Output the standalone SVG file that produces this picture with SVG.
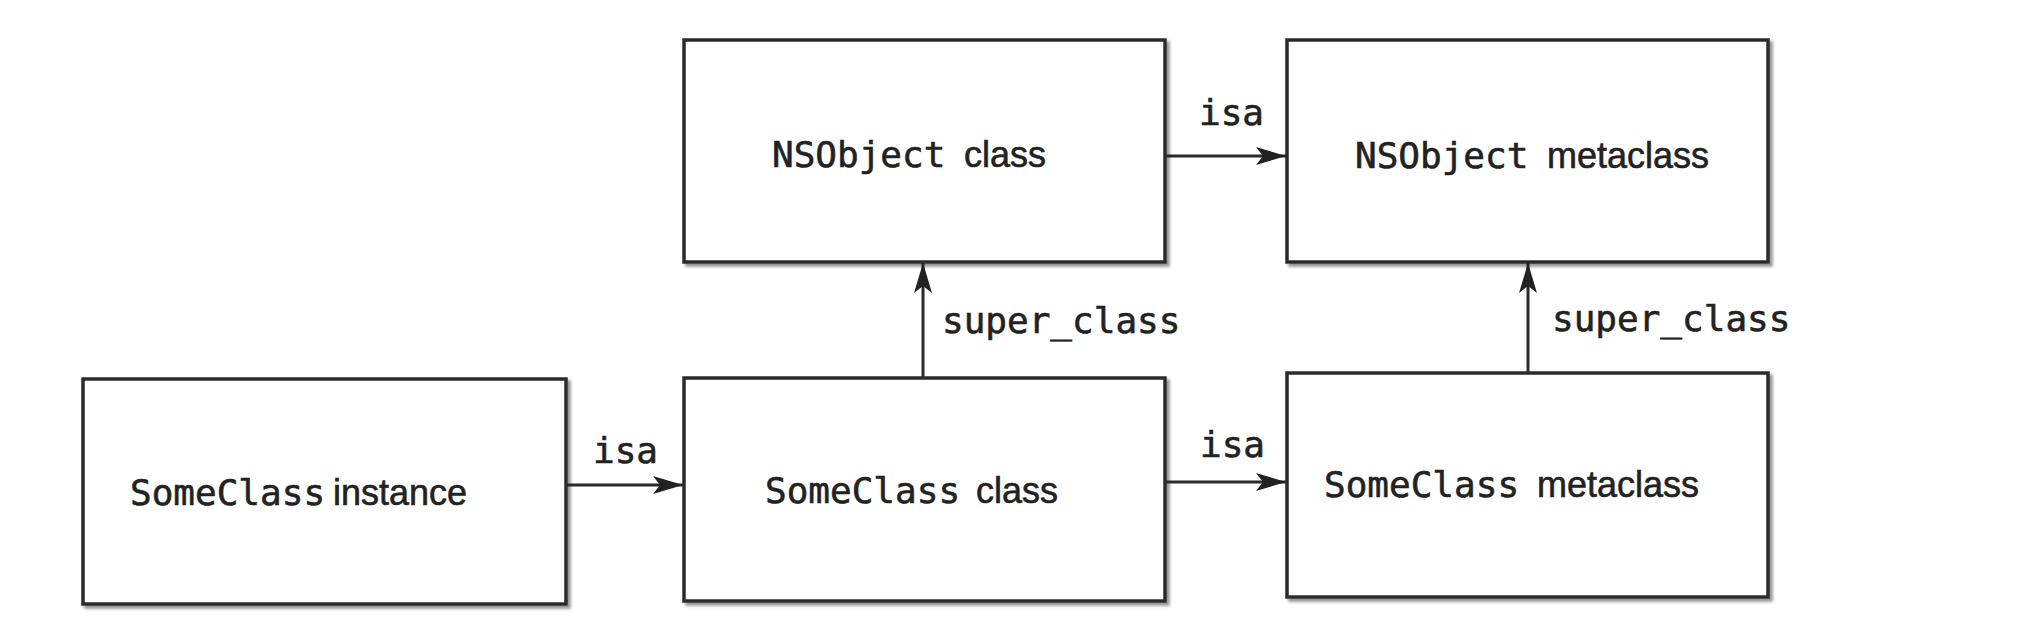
<svg xmlns="http://www.w3.org/2000/svg" width="2038" height="634" viewBox="0 0 2038 634">
  <style>
    .box { fill: #ffffff; stroke: #2b2b2b; stroke-width: 3.5; }
    .conn { fill: none; stroke: #2b2b2b; stroke-width: 3; }
    .mono { font-family: "DejaVu Sans Mono", "Liberation Mono", monospace; font-size: 36px; fill: #222222; stroke: #222222; stroke-width: 0.6; }
    .sans { font-family: "Liberation Sans", Arial, sans-serif; font-size: 36px; fill: #222222; stroke: #222222; stroke-width: 0.6; }
  </style>
  <defs>
    <filter id="shadow" x="-5%" y="-5%" width="115%" height="115%">
      <feDropShadow dx="3" dy="3" stdDeviation="1.8" flood-color="#777777" flood-opacity="0.8"/>
    </filter>
    <marker id="arrow" markerUnits="userSpaceOnUse" markerWidth="32" markerHeight="20" refX="30" refY="9" orient="auto">
      <path d="M0,0 L30,9 L0,18 L7,9 Z" fill="#222222"/>
    </marker>
  </defs>
  <rect width="2038" height="634" fill="#ffffff"/>

  <g id="someclass-instance">
    <rect class="box" x="83" y="379" width="483" height="225" filter="url(#shadow)"/>
    <text x="130" y="505"><tspan class="mono">SomeClass</tspan><tspan class="sans" x="333">instance</tspan></text>
  </g>

  <g id="nsobject-class">
    <rect class="box" x="684" y="40" width="481" height="222" filter="url(#shadow)"/>
    <text x="772" y="167"><tspan class="mono">NSObject</tspan><tspan class="sans" x="964">class</tspan></text>
  </g>

  <g id="someclass-class">
    <rect class="box" x="684" y="378" width="481" height="223" filter="url(#shadow)"/>
    <text x="765" y="503"><tspan class="mono">SomeClass</tspan><tspan class="sans" x="976">class</tspan></text>
  </g>

  <g id="nsobject-metaclass">
    <rect class="box" x="1287" y="40" width="481" height="222" filter="url(#shadow)"/>
    <text x="1355" y="168"><tspan class="mono">NSObject</tspan><tspan class="sans" x="1547">metaclass</tspan></text>
  </g>

  <g id="someclass-metaclass">
    <rect class="box" x="1287" y="373" width="481" height="224" filter="url(#shadow)"/>
    <text x="1324" y="497"><tspan class="mono">SomeClass</tspan><tspan class="sans" x="1537">metaclass</tspan></text>
  </g>

  <g id="connectors">
    <line class="conn" x1="566" y1="485" x2="683" y2="485" marker-end="url(#arrow)"/>
    <text class="mono" x="593" y="463">isa</text>

    <line class="conn" x1="1166" y1="482" x2="1286" y2="482" marker-end="url(#arrow)"/>
    <text class="mono" x="1200" y="457">isa</text>

    <line class="conn" x1="1166" y1="156" x2="1286" y2="156" marker-end="url(#arrow)"/>
    <text class="mono" x="1199" y="125">isa</text>

    <line class="conn" x1="923" y1="377" x2="923" y2="263" marker-end="url(#arrow)"/>
    <text class="mono" x="942" y="333">super_class</text>

    <line class="conn" x1="1528" y1="373" x2="1528" y2="263" marker-end="url(#arrow)"/>
    <text class="mono" x="1552" y="331">super_class</text>
  </g>
</svg>
